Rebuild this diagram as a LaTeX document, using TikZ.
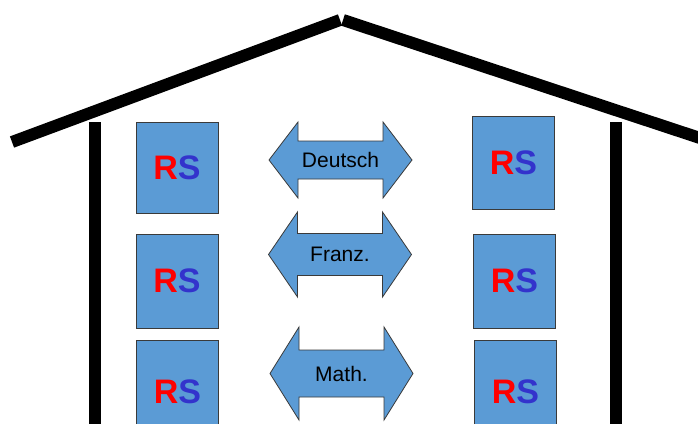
\documentclass[tikz,border=0pt]{standalone}
\usepackage{fontspec}
\setmainfont{Liberation Sans}
\definecolor{boxblue}{HTML}{5B9BD5}
\definecolor{edgegray}{HTML}{3A3A3A}
\definecolor{rred}{HTML}{FF0000}
\definecolor{sblue}{HTML}{3333CC}
\tikzset{
  wall/.style={line width=12pt, line cap=butt},
  rsbox/.style={draw=edgegray, line width=0.8pt, fill=boxblue, minimum width=82pt, inner sep=0pt,
    font=\fontsize{34}{34}\selectfont\bfseries},
  arrowshape/.style={draw=edgegray, line width=0.8pt, fill=boxblue, line join=miter},
  lbl/.style={font=\fontsize{21}{21}\selectfont, text=black, inner sep=0pt}
}
\newcommand{\RS}{{\color{rred}R}{\color{sblue}S}}
\newcommand{\dbarrow}[6]{%
  \draw[arrowshape] (#1-71.5,#2) -- (#1-42.5,#2-#3) -- (#1-42.5,#2-#4) -- (#1+42.5,#2-#4)
    -- (#1+42.5,#2-#3) -- (#1+71.5,#2) -- (#1+42.5,#2+#3) -- (#1+42.5,#2+#4)
    -- (#1-42.5,#2+#4) -- (#1-42.5,#2+#3) -- cycle;
  \node[lbl] (#5) at (#1,#2) {#6};}
\begin{document}
\begin{tikzpicture}[x=1pt,y=-1pt]
\useasboundingbox (0,0) rectangle (698,423);
\clip (0,0) rectangle (698,423);
\fill[white] (0,0) rectangle (698,423);
% roof
\coordinate (roofL) at (12,142);
\coordinate (apexL) at (340,20);
\coordinate (apexR) at (343,20);
\coordinate (roofR) at (712,142);
\draw[wall] (roofL) -- (apexL);
\draw[wall] (apexR) -- (roofR);
% walls
\coordinate (wl1) at (95,122); \coordinate (wl2) at (95,430);
\coordinate (wr1) at (616,122); \coordinate (wr2) at (616,430);
\draw[wall] (wl1) -- (wl2);
\draw[wall] (wr1) -- (wr2);
% boxes left
\node[rsbox, minimum height=91pt] (L1) at (177,167.5) {\RS};
\node[rsbox, minimum height=94pt] (L2) at (177,281) {\RS};
\node[rsbox, minimum height=103pt] (L3) at (177.5,391.5) {\RS};
% boxes right
\node[rsbox, minimum height=93pt] (R1) at (513.5,162.5) {\RS};
\node[rsbox, minimum height=94pt] (R2) at (514.5,281) {\RS};
\node[rsbox, minimum height=103pt] (R3) at (515.5,391.5) {\RS};
% arrows
\dbarrow{340.5}{160}{38}{19}{deutsch}{Deutsch}
\dbarrow{340}{254.5}{42.5}{21}{franz}{Franz.}
\dbarrow{341.5}{373.5}{46.5}{23.5}{math}{Math.}
\end{tikzpicture}
\end{document}
